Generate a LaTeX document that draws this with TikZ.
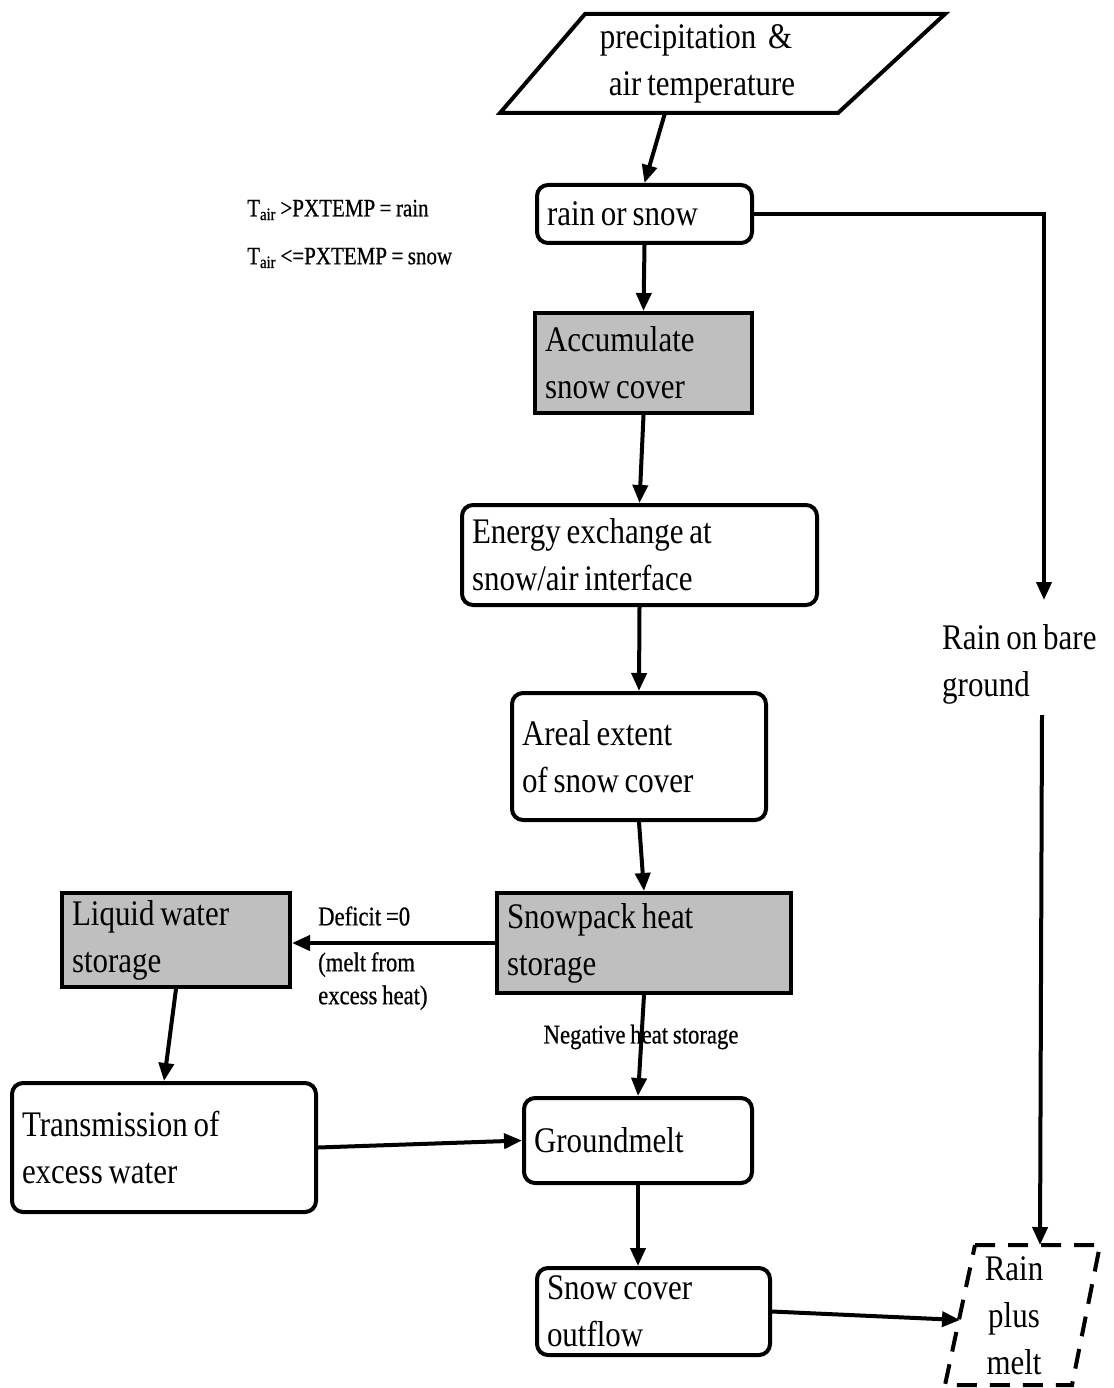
\documentclass[tikz,border=0pt]{standalone}
\usepackage{fontspec}
\setmainfont{Liberation Serif}
\newfontfamily\bigf[FakeStretch=0.86, WordSpace=0.75]{Liberation Serif}
\newfontfamily\smallf[FakeStretch=0.84, WordSpace=0.85, FakeBold=0.6]{Liberation Serif}
\usetikzlibrary{arrows.meta}
\begin{document}
\begin{tikzpicture}[x=1pt,y=-1pt,
  box/.style={draw, line width=4pt, rounded corners=11pt, align=left, inner xsep=10pt, inner ysep=0pt, font=\bigf\fontsize{36}{47}\selectfont, execute at begin node={\spaceskip=0pt\xspaceskip=0pt\relax}},
  gbox/.style={box, rounded corners=0pt, fill=black!25},
  arr/.style={line width=4pt, -{Triangle[length=18pt,width=15pt]}},
  big/.style={font=\bigf\fontsize{36}{47}\selectfont, inner sep=0pt, align=left, execute at begin node={\spaceskip=0pt\xspaceskip=0pt\relax}},
  small/.style={font=\smallf\fontsize{25}{33}\selectfont, inner sep=0pt, align=left, execute at begin node={\spaceskip=0pt\xspaceskip=0pt\relax}}]
\useasboundingbox (0,0) rectangle (1113,1388);
% top parallelogram
\draw[line width=4pt, line join=miter] (585,14) -- (945,14) -- (838,113) -- (500,113) -- cycle;
\node[big, align=center] (precip) at (696,64) {precipitation\ \ \&\\ \,\,air temperature};
\coordinate (pbot) at (665,113);
% boxes
\node[box, text width=195pt, minimum height=58pt] (rain) at (644.5,214) {rain or snow};
\node[gbox, text width=197pt, minimum height=100pt] (accum) at (643.5,363) {Accumulate\\snow cover};
\node[box, text width=335pt, minimum height=100pt] (energy) at (639.5,555) {Energy exchange at\\snow/air interface};
\node[box, text width=234pt, minimum height=127pt] (areal) at (639,756.5) {Areal extent\\of snow cover};
\node[gbox, text width=274pt, minimum height=100pt] (snowpack) at (644,943) {Snowpack heat\\storage};
\node[gbox, text width=208pt, minimum height=94pt] (liquid) at (176,940) {Liquid water\\storage};
\node[box, text width=284pt, minimum height=129pt] (trans) at (164,1147.5) {Transmission of\\excess water};
\node[box, text width=208pt, minimum height=85pt] (ground) at (638,1140.5) {Groundmelt};
\node[box, text width=213pt, minimum height=87pt] (outflow) at (653.5,1311.5) {Snow cover\\outflow};
% right side
\node[big, anchor=west] (rainbare) at (942,664) {Rain on bare\\ground};
\coordinate (rbtop) at (1044,600);
\coordinate (rbbot) at (1042,715);
% dashed parallelogram
\draw[line width=4pt, dash pattern=on 20pt off 13pt] (975,1245) -- (1100,1245) -- (1072,1385) -- (945,1385) -- cycle;
\node[big, align=center] (rpm) at (1014,1316) {Rain\\plus\\melt};
\coordinate (rpmtop) at (1040,1245);
\coordinate (rpmleft) at (960,1320);
% labels
\node[small, anchor=west] (t1) at (247,210) {T\textsubscript{air} >PXTEMP = rain};
\node[small, anchor=west] (t2) at (247,258) {T\textsubscript{air} <=PXTEMP = snow};
\node[small, anchor=west, font=\smallf\fontsize{27}{33}\selectfont] (def) at (318,916) {Deficit =0};
\node[small, anchor=north west, font=\smallf\fontsize{27}{33}\selectfont] (melt) at (318,952) {(melt from\\excess heat)};
\node[small, font=\smallf\fontsize{27}{33}\selectfont] (neg) at (641,1037) {Negative heat storage};
% connectors
\draw[arr] (pbot) -- (rain.north);
\draw[arr] (rain.east) -| (rbtop);
\draw[arr] (rbbot) -- (rpmtop);
\draw[arr] (rain.south) -- (accum.north);
\draw[arr] (accum.south) -- (energy.north);
\draw[arr] (energy.south) -- (areal.north);
\draw[arr] (areal.south) -- (snowpack.north);
\draw[arr] (snowpack.west) -- (liquid.east |- snowpack.west);
\draw[arr] (liquid.south) -- (trans.north);
\draw[arr] (trans.east) -- (ground.west);
\draw[arr] (snowpack.south) -- (ground.north);
\draw[arr] (ground.south) -- (ground.south |- outflow.north);
\draw[arr] (outflow.east) -- (rpmleft);
\end{tikzpicture}
\end{document}
